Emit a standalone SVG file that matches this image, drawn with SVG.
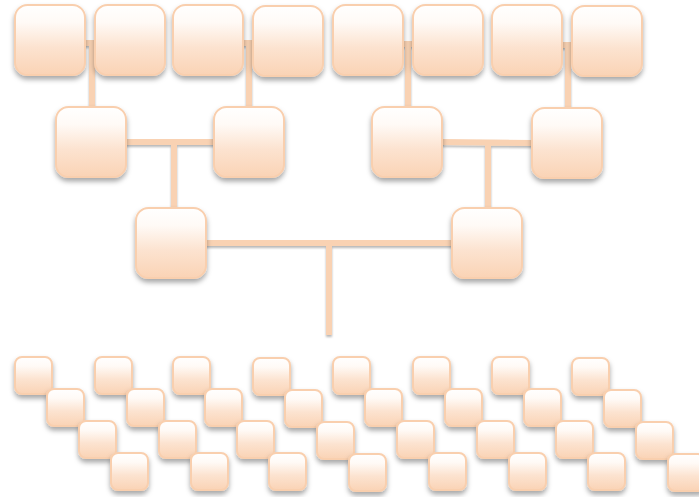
<svg xmlns="http://www.w3.org/2000/svg" width="699" height="497" viewBox="0 0 699 497">
  <defs>
    <linearGradient id="fill" x1="0" y1="0" x2="0" y2="1">
      <stop offset="0" stop-color="#ffffff"/>
      <stop offset="0.25" stop-color="#fffaf6"/>
      <stop offset="0.6" stop-color="#fce3d0"/>
      <stop offset="1" stop-color="#fad3b5"/>
    </linearGradient>
    <filter id="shadow" x="-20%" y="-20%" width="140%" height="150%">
      <feDropShadow dx="0" dy="3.5" stdDeviation="2.4" flood-color="#000000" flood-opacity="0.34"/>
    </filter>
    <filter id="lineShadow" x="-10%" y="-10%" width="120%" height="130%">
      <feDropShadow dx="0" dy="2" stdDeviation="1.3" flood-color="#000000" flood-opacity="0.28"/>
    </filter>
  </defs>
  <style>
    .box { fill: url(#fill); stroke: #f9cfae; stroke-width: 2; filter: url(#shadow); }
    .big { rx: 12.5; ry: 12.5; }
    .small { rx: 7; ry: 7; }
    .wire { fill: none; stroke: #f9d2b3; stroke-width: 6; stroke-linecap: butt; filter: url(#lineShadow); }
  </style>

  <!-- tree connectors -->
  <g id="connectors">
    <path class="wire" d="M84 43 H96 M92 43 V108"/>
    <path class="wire" d="M242 43 H254 M249 43 V108"/>
    <path class="wire" d="M402 44 H414 M408 44 V108"/>
    <path class="wire" d="M561 45 H573 M568 45 V109"/>
    <path class="wire" d="M125 142 H215 M174 142 V209"/>
    <path class="wire" d="M441 142 L533 143 M488 143 V209"/>
    <path class="wire" d="M205 243 H453 M329 243 V335"/>
  </g>

  <!-- top row -->
  <g id="n1"><rect class="box big" x="15" y="5" width="70" height="70"/></g>
  <g id="n2"><rect class="box big" x="95" y="5" width="70" height="70"/></g>
  <g id="n3"><rect class="box big" x="173" y="5" width="70" height="70"/></g>
  <g id="n4"><rect class="box big" x="253" y="6" width="70" height="70"/></g>
  <g id="n5"><rect class="box big" x="333" y="5" width="70" height="70"/></g>
  <g id="n6"><rect class="box big" x="413" y="5" width="70" height="70"/></g>
  <g id="n7"><rect class="box big" x="492" y="5" width="70" height="70"/></g>
  <g id="n8"><rect class="box big" x="572" y="6" width="70" height="70"/></g>

  <!-- second row -->
  <g id="m1"><rect class="box big" x="56" y="107" width="70" height="70"/></g>
  <g id="m2"><rect class="box big" x="214" y="107" width="70" height="70"/></g>
  <g id="m3"><rect class="box big" x="372" y="107" width="70" height="70"/></g>
  <g id="m4"><rect class="box big" x="532" y="108" width="70" height="70"/></g>

  <!-- third row -->
  <g id="r1"><rect class="box big" x="136" y="208" width="70" height="70"/></g>
  <g id="r2"><rect class="box big" x="452" y="208" width="70" height="70"/></g>

  <!-- stepped rows of small boxes -->
  <g id="s1">
    <rect class="box small" x="15" y="357" width="37" height="37"/>
    <rect class="box small" x="47" y="389" width="37" height="37"/>
    <rect class="box small" x="79" y="421" width="37" height="37"/>
    <rect class="box small" x="111" y="453" width="37" height="37"/>
  </g>
  <g id="s2">
    <rect class="box small" x="95" y="357" width="37" height="37"/>
    <rect class="box small" x="127" y="389" width="37" height="37"/>
    <rect class="box small" x="159" y="421" width="37" height="37"/>
    <rect class="box small" x="191" y="453" width="37" height="37"/>
  </g>
  <g id="s3">
    <rect class="box small" x="173" y="357" width="37" height="37"/>
    <rect class="box small" x="205" y="389" width="37" height="37"/>
    <rect class="box small" x="237" y="421" width="37" height="37"/>
    <rect class="box small" x="269" y="453" width="37" height="37"/>
  </g>
  <g id="s4">
    <rect class="box small" x="253" y="358" width="37" height="37"/>
    <rect class="box small" x="285" y="390" width="37" height="37"/>
    <rect class="box small" x="317" y="422" width="37" height="37"/>
    <rect class="box small" x="349" y="454" width="37" height="37"/>
  </g>
  <g id="s5">
    <rect class="box small" x="333" y="357" width="37" height="37"/>
    <rect class="box small" x="365" y="389" width="37" height="37"/>
    <rect class="box small" x="397" y="421" width="37" height="37"/>
    <rect class="box small" x="429" y="453" width="37" height="37"/>
  </g>
  <g id="s6">
    <rect class="box small" x="413" y="357" width="37" height="37"/>
    <rect class="box small" x="445" y="389" width="37" height="37"/>
    <rect class="box small" x="477" y="421" width="37" height="37"/>
    <rect class="box small" x="509" y="453" width="37" height="37"/>
  </g>
  <g id="s7">
    <rect class="box small" x="492" y="357" width="37" height="37"/>
    <rect class="box small" x="524" y="389" width="37" height="37"/>
    <rect class="box small" x="556" y="421" width="37" height="37"/>
    <rect class="box small" x="588" y="453" width="37" height="37"/>
  </g>
  <g id="s8">
    <rect class="box small" x="572" y="358" width="37" height="37"/>
    <rect class="box small" x="604" y="390" width="37" height="37"/>
    <rect class="box small" x="636" y="422" width="37" height="37"/>
    <rect class="box small" x="668" y="454" width="37" height="37"/>
  </g>
</svg>
